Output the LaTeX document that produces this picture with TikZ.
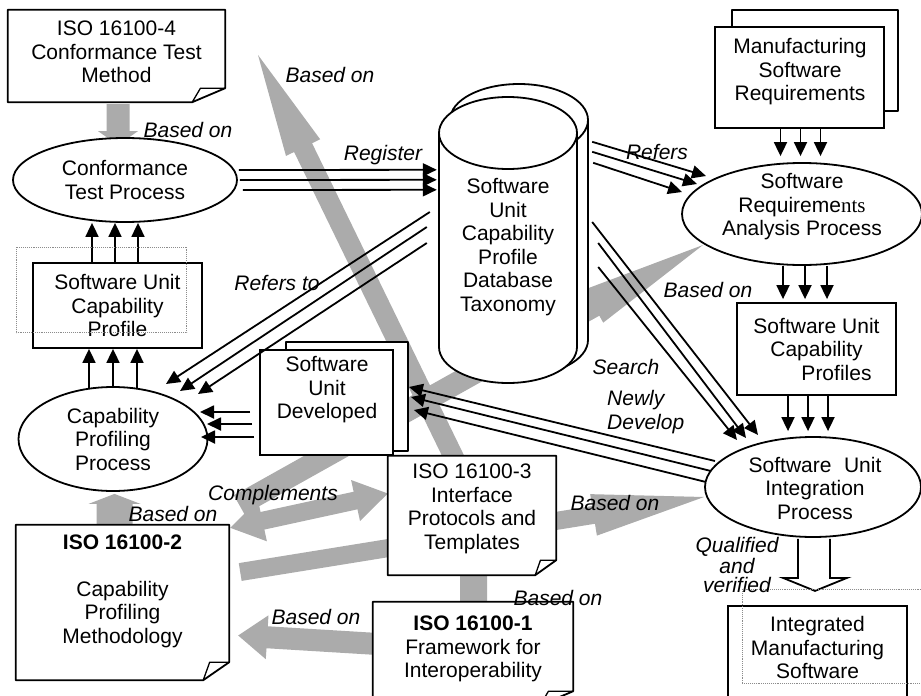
\documentclass[tikz,border=0pt]{standalone}
\usepackage{fontspec}
\setmainfont{Liberation Sans}
\newfontfamily\serifpart{Liberation Serif}
\usetikzlibrary{shapes.geometric,arrows.meta,calc}
\pgfdeclarelayer{bands}
\pgfdeclarelayer{frames}
\pgfsetlayers{bands,frames,main}

\tikzset{
  every node/.style={font=\fontsize{21}{23.5}\selectfont, inner sep=0pt, align=center},
  proc/.style={ellipse, draw, line width=1.8pt, fill=white},
  plainbox/.style={rectangle, draw, line width=1.8pt, fill=white},
  docnode/.style={rectangle, draw=none},
  lbl/.style={font=\fontsize{21}{23.5}\selectfont\itshape},
  flow/.style={line width=1.8pt, -{Triangle[length=14pt,width=13pt]}},
  band/.style={fill=black!33, draw=none},
  ghost/.style={draw=black!45, densely dotted, line width=0.9pt},
  outline/.style={line width=1.8pt, fill=white, line join=round},
}

% broad grey arrow: tail, tip, half shaft, half head, head length
\newcommand\fatarrow[5]{%
  \coordinate (fah) at ($(#2)!#5!(#1)$);
  \fill[band] ($(#1)!#3!90:(#2)$) -- ($(fah)!#3!90:(#2)$) -- ($(fah)!#4!90:(#2)$)
     -- (#2) -- ($(fah)!#4!-90:(#2)$) -- ($(fah)!#3!-90:(#2)$) -- ($(#1)!#3!-90:(#2)$) -- cycle;}
% broad grey arrow with a head at both ends
\newcommand\fatdouble[5]{%
  \coordinate (fdA) at ($(#1)!#5!(#2)$);
  \coordinate (fdB) at ($(#2)!#5!(#1)$);
  \fill[band] (#1) -- ($(fdA)!#4!90:(#2)$) -- ($(fdA)!#3!90:(#2)$) -- ($(fdB)!#3!90:(#2)$)
     -- ($(fdB)!#4!90:(#2)$) -- (#2) -- ($(fdB)!#4!-90:(#2)$) -- ($(fdB)!#3!-90:(#2)$)
     -- ($(fdA)!#3!-90:(#2)$) -- ($(fdA)!#4!-90:(#2)$) -- cycle;}
% document outline with a folded lower right corner
\newcommand\docframe[3]{%
  \draw[outline] (#1.north west) -- (#1.north east) -- ([yshift=#3]#1.south east)
     -- ([xshift=-#2]#1.south east) -- (#1.south west) -- cycle;
  \draw[line width=1.3pt, line join=round] ([xshift=-#2]#1.south east)
     -- ([xshift=-0.75*#2, yshift=#3]#1.south east) -- ([yshift=#3]#1.south east);}

\begin{document}
\begin{tikzpicture}[x=1pt,y=-1pt]
\useasboundingbox (0,0) rectangle (921,696);

% ---------- processes ----------
\node[proc, minimum width=224pt, minimum height=84pt] (ctp) at (125,180) {Conformance\\Test Process};
\node[proc, minimum width=189pt, minimum height=104pt] (cpp) at (113,439) {Capability\\Profiling\\Process};
\node[proc, minimum width=240pt, minimum height=102pt] (srap) at (802,214) {};
\node (srapt) at (802,207) {Software\\Requireme{\serifpart nts}\\Analysis Process};
\node[proc, minimum width=216pt, minimum height=100pt] (suip) at (813,487) {};
\node (suipt) at (815,488) {Software\hspace{12.5pt}Unit\\Integration\\Process};

% ---------- documents and artefacts ----------
\node[docnode, minimum width=217pt, minimum height=92pt] (iso4) at (116.5,56) {};
\node[docnode, minimum width=213pt, minimum height=155pt] (iso2) at (122.5,602.5) {};
\node[docnode, minimum width=168pt, minimum height=119pt] (iso3) at (472,515.5) {};
\node[docnode, minimum width=200pt, minimum height=103pt] (iso1) at (473,653.5) {};
\node[docnode, minimum width=138pt, minimum height=286pt] (db) at (508,240) {};

\node[plainbox, minimum width=169pt, minimum height=85pt] (sucp) at (117.5,305.5) {Software Unit\\Capability\\Profile};
\node[plainbox, minimum width=133pt, minimum height=105pt] (sud) at (326.5,402.5) {};
\node[plainbox, minimum width=169pt, minimum height=101pt] (msr) at (799.5,77.5) {};
\node[plainbox, minimum width=159pt, minimum height=92pt] (sucps) at (816.5,349) {Software Unit\\Capability\\\hspace*{40pt}Profiles};
\node[plainbox, minimum width=179pt, minimum height=104pt] (ims) at (817.5,658) {};

\node (iso4t) at (116.5,52) {ISO 16100-4\\Conformance Test\\Method};
\node (iso2t) at (122.5,591) {\textbf{ISO 16100-2}\\\mbox{}\\Capability\\Profiling\\Methodology};
\node (iso3t) at (472,509) {ISO 16100-3\\Interface\\Protocols and\\Templates};
\node (iso1t) at (473,649) {\textbf{ISO 16100-1}\\Framework for\\Interoperability};
\node (dbt) at (508,247) {Software\\Unit\\Capability\\Profile\\Database\\Taxonomy};
\node (sudt) at (327,390) {Software\\Unit\\Developed};
\node (msrt) at (800,72) {Manufacturing\\Software\\Requirements};
\node (imst) at (817.5,647.5) {Integrated\\Manufacturing\\Software};

% ---------- outlines behind the texts ----------
\begin{pgfonlayer}{frames}
  \docframe{iso4}{33pt}{14pt}
  \docframe{iso2}{26pt}{18pt}
  \docframe{iso3}{21pt}{15pt}
  \docframe{iso1}{33pt}{14pt}
  % stacked sheets
  \draw[outline] ([xshift=27pt,yshift=7pt]sud.north west) rectangle ([xshift=14pt,yshift=5pt]sud.south east);
  \draw[outline] ([xshift=18pt,yshift=16pt]msr.north west) rectangle ([xshift=13pt,yshift=18pt]msr.south east);
  % database drum, rear shell then front shell
  \draw[outline] (450,120) -- (450,340) arc[start angle=180, end angle=0, x radius=69, y radius=36] -- (588,120) -- cycle;
  \draw[outline] (519,120) ellipse [x radius=69, y radius=36];
  \draw[outline] (439,133) -- (439,347) arc[start angle=180, end angle=0, x radius=69, y radius=36] -- (577,133) -- cycle;
  \draw[outline] (508,133) ellipse [x radius=69, y radius=36];
\end{pgfonlayer}

% ---------- broad grey "based on" arrows ----------
\begin{pgfonlayer}{bands}
  \coordinate (a1t) at ($(iso4.south)+(1.5,2)$);
  \coordinate (a1h) at ($(ctp.north)+(-7,8)$);
  \fatarrow{a1t}{a1h}{11.5pt}{20pt}{14pt}
  \coordinate (a2t) at ($(iso3.center)+(-2,-25)$);
  \coordinate (a2h) at (258,55);
  \fatarrow{a2t}{a2h}{10pt}{19pt}{103pt}
  \coordinate (a3t) at ($(iso2.north)+(-8,4)$);
  \coordinate (a3h) at ($(cpp.south)+(1.5,2)$);
  \fatarrow{a3t}{a3h}{18pt}{26pt}{10pt}
  \coordinate (a4l) at ($(iso2.north east)+(1,3)$);
  \coordinate (a4r) at ($(iso3.west)+(0,-22)$);
  \fatdouble{a4l}{a4r}{9pt}{21pt}{33pt}
  \coordinate (a5t) at ($(iso2.north east)+(10,-20)$);
  \coordinate (a5h) at ($(srap.center)+(-99,31)$);
  \fatarrow{a5t}{a5h}{11pt}{19pt}{125pt}
  \coordinate (a6t) at ($(iso2.east)+(11,-30.5)$);
  \coordinate (a6h) at ($(suip.west)+(0,10)$);
  \fatarrow{a6t}{a6h}{9pt}{21pt}{112pt}
  \coordinate (a7t) at ($(iso1.west)+(5,-9.5)$);
  \coordinate (a7h) at ($(iso2.east)+(9,33)$);
  \fatarrow{a7t}{a7h}{11pt}{22pt}{29pt}
  \coordinate (a8t) at ($(iso1.north)+(0.5,6)$);
  \coordinate (a8h) at ($(iso3.south)+(1.5,-8)$);
  \fatarrow{a8t}{a8h}{13.5pt}{13.5pt}{5pt}
\end{pgfonlayer}

% ---------- triple flow connectors ----------
% Register
\draw[flow] ($(ctp.east)+(1,-10)$) -- ($(db.north west)+(-2,73)$);
\draw[flow] ($(ctp.east)+(2,0)$) -- ($(db.north west)+(-2,83)$);
\draw[flow] ($(ctp.east)+(5,10)$) -- ($(db.north west)+(-2,93)$);
% Refers
\draw[flow] ($(db.north east)+(15,45)$) -- ($(srap.center)+(-96,-38)$);
\draw[flow] ($(db.north east)+(15,55)$) -- ($(srap.center)+(-105,-30)$);
\draw[flow] ($(db.north east)+(16,66)$) -- ($(srap.center)+(-120,-22)$);
% Search
\draw[flow] ($(db.east)+(15,-18)$) -- ($(suip.center)+(-55,-52)$);
\draw[flow] ($(db.east)+(21,3)$) -- ($(suip.center)+(-67,-49)$);
\draw[flow] ($(db.east)+(21,27)$) -- ($(suip.center)+(-76,-47)$);
% Newly Develop
\draw[flow] ($(suip.center)+(-98,-26)$) -- ($(sud.east)+(15,-15.5)$);
\draw[flow] ($(suip.center)+(-102,-16)$) -- ($(sud.east)+(17,-5.5)$);
\draw[flow] ($(suip.center)+(-107,-5)$) -- ($(sud.east)+(20,7.5)$);
% Refers to
\draw[flow] ($(db.west)+(-9,-28)$) -- ($(cpp.center)+(53,-55)$);
\draw[flow] ($(db.west)+(-12,-13)$) -- ($(cpp.center)+(67,-48)$);
\draw[flow] ($(db.west)+(-12,3)$) -- ($(cpp.center)+(85,-45)$);
% developed units into profiling
\draw[flow] ($(sud.west)+(-9,9.5)$) -- ($(cpp.center)+(87,-27)$);
\draw[flow] ($(sud.west)+(-7,21.5)$) -- ($(cpp.center)+(94,-15)$);
\draw[flow] ($(sud.west)+(-5,34.5)$) -- ($(cpp.center)+(88,-2)$);
% vertical bundles
\foreach \d in {-25.5,-2.5,20.5}
  \draw[flow] ($(sucp.north)+(\d,0)$) coordinate (s) -- (s |- ctp.south);
\foreach \d in {-24,0,24}
  \draw[flow] ($(cpp.north)+(\d,2)$) coordinate (s) -- (s |- sucp.south);
\foreach \d in {-19,1,21}
  \draw[flow, shorten >=6pt] ($(msr.south)+(\d,0)$) coordinate (s) -- (s |- srap.north);
\foreach \d in {-19,3,25}
  \draw[flow, shorten >=3pt] ($(srap.south)+(\d,0)$) coordinate (s) -- (s |- sucps.north);
\foreach \d in {-28.5,-8.5,11.5}
  \draw[flow, shorten >=5pt] ($(sucps.south)+(\d,0)$) coordinate (s) -- (s |- suip.north);

% hollow block arrow towards the integrated software
\draw[line width=1.8pt, fill=white, line join=miter]
  ($(suip.south)+(-15,1)$) -- ++(0,39) -- ++(-15,0) -- ($(suip.south)+(2,53)$)
  -- ($(suip.south)+(34,40)$) -- ++(-17,0) -- ($(suip.south)+(17,1)$);

% dotted frames
\draw[ghost] ($(sucp.north west)+(-16,-15)$) rectangle ($(sucp.south east)+(-16,-16)$);
\draw[ghost] ($(ims.north west)+(15,-16)$) rectangle ($(ims.south east)+(18,-27)$);

% ---------- labels ----------
\node[lbl] (lb1) at (188,130) {Based on};
\node[lbl] (lb2) at (330,75) {Based on};
\node[lbl] (lreg) at (383,155) {Register};
\node[lbl] (lref) at (657,152) {Refers};
\node[lbl] (lref2) at (277,283) {Refers to};
\node[lbl] (lb3) at (708,290) {Based on};
\node[lbl] (lsrch) at (626,367) {Search};
\node[lbl, align=left, anchor=west] (lnew) at (607,412) {Newly\\Develop};
\node[lbl] (lcmp) at (273,495) {Complements};
\node[lbl] (lb4) at (173,514) {Based on};
\node[lbl] (lb5) at (615,503) {Based on};
\node[lbl] (lb6) at (316,617) {Based on};
\node[lbl] (lb7) at (558,598) {Based on};
\node[lbl, font=\fontsize{21}{19}\selectfont\itshape] (lqv) at (737,565) {Qualified\\and\\verified};
\end{tikzpicture}
\end{document}
